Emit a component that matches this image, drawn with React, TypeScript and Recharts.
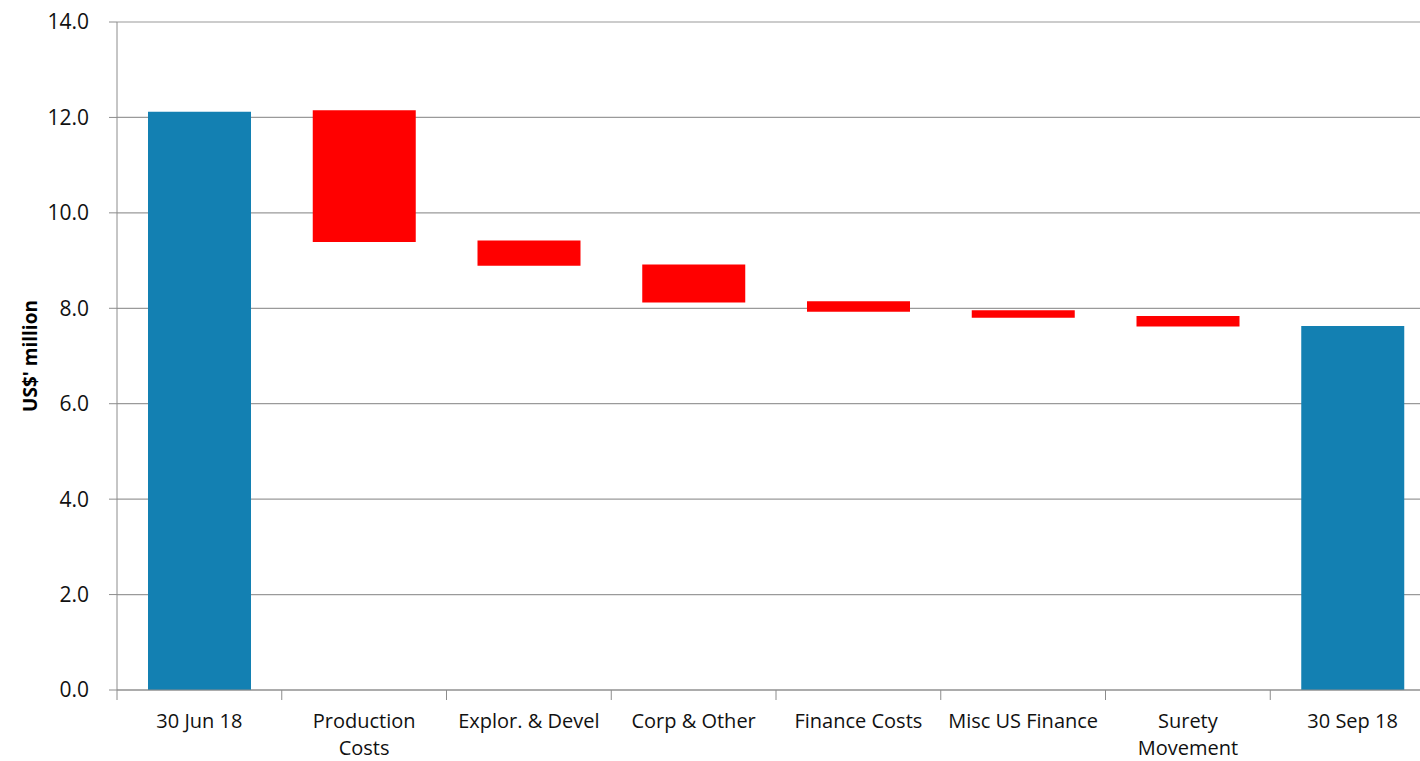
import React from "react";
import { Bar, BarChart, CartesianGrid, Cell, XAxis, YAxis } from "recharts";

const categories = [
  "30 Jun 18",
  "Production Costs",
  "Explor. & Devel",
  "Corp & Other",
  "Finance Costs",
  "Misc US Finance",
  "Surety Movement",
  "30 Sep 18",
];
// how each axis label breaks into lines
const tickLines = [
  ["30 Jun 18"],
  ["Production", "Costs"],
  ["Explor. & Devel"],
  ["Corp & Other"],
  ["Finance Costs"],
  ["Misc US Finance"],
  ["Surety", "Movement"],
  ["30 Sep 18"],
];
const tops = [12.12, 12.15, 9.42, 8.92, 8.15, 7.96, 7.84, 7.63];
const bottoms = [0, 9.39, 8.89, 8.12, 7.93, 7.8, 7.62, 0];
const isTotal = [true, false, false, false, false, false, false, true];
const yTicks = [0, 2, 4, 6, 8, 10, 12, 14];

const CHART_W = 1435;
const CHART_H = 761;
const YAXIS_W = 117;
const XAXIS_H = 71;
const TOP = 22;
const BAND = (CHART_W - YAXIS_W) / categories.length;
const FONT = "'Open Sans', Lato, sans-serif";

const data = categories.map((name, i) => ({
  name,
  range: [bottoms[i], tops[i]],
}));

function CategoryTick(props: any) {
  const { x, y, payload, index } = props;
  const lines = tickLines[index] ?? [payload.value];
  const axisY = CHART_H - XAXIS_H;
  const bx = x - BAND / 2;
  return (
    <g>
      <line x1={bx} y1={axisY} x2={bx} y2={axisY + 10} stroke="#8c8c8c" />
      <text x={x} y={y} textAnchor="middle" fill="#111" fontSize={20} fontFamily={FONT}>
        {lines.map((l: string, k: number) => (
          <tspan key={k} x={x} dy={k === 0 ? 30 : 27}>
            {l}
          </tspan>
        ))}
      </text>
    </g>
  );
}

export default function App() {
  return (
    <div
      style={{
        position: "fixed",
        left: 0,
        top: 0,
        width: 1420,
        height: 761,
        overflow: "hidden",
        background: "#fff",
      }}
    >
      <BarChart
        width={CHART_W}
        height={CHART_H}
        data={data}
        margin={{ top: TOP, right: 0, left: 0, bottom: 0 }}
        barSize={103}
      >
        <CartesianGrid vertical={false} stroke="#9a9a9a" strokeWidth={1.2} />
        <XAxis
          dataKey="name"
          height={XAXIS_H}
          stroke="#8c8c8c"
          tickLine={false}
          interval={0}
          tick={<CategoryTick />}
        />
        <YAxis
          width={YAXIS_W}
          domain={[0, 14]}
          ticks={yTicks}
          stroke="#8c8c8c"
          tickSize={8}
          tickMargin={20}
          tick={{ fill: "#111", fontSize: 21, fontFamily: FONT }}
          tickFormatter={(v: number) => v.toFixed(1)}
          label={{
            content: () => (
              <text
                x={30}
                y={356}
                transform="rotate(-90 30 356)"
                textAnchor="middle"
                dominantBaseline="central"
                fontSize={19}
                fontWeight={700}
                fontFamily={FONT}
                fill="#000"
              >
                US$' million
              </text>
            ),
          }}
        />
        <Bar dataKey="range" isAnimationActive={false}>
          {data.map((_, i) => (
            <Cell key={i} fill={isTotal[i] ? "#1380b2" : "#ff0000"} />
          ))}
        </Bar>
      </BarChart>
    </div>
  );
}
